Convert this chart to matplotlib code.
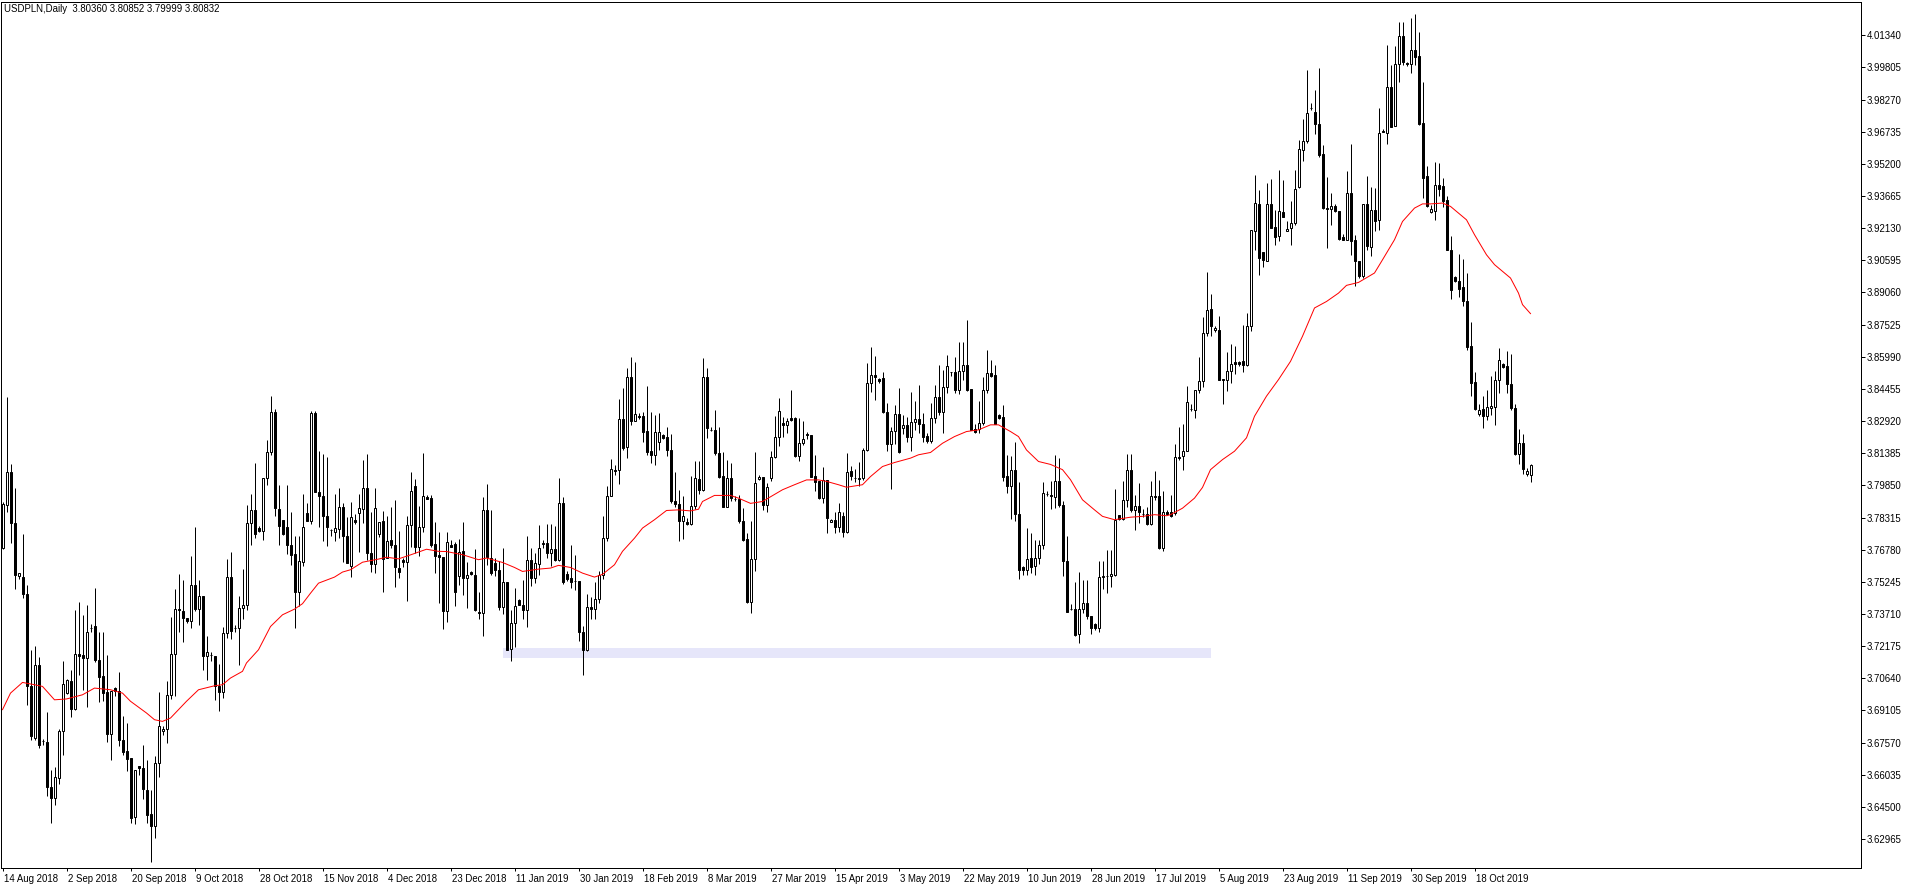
import matplotlib
matplotlib.use("Agg")
import matplotlib.pyplot as plt
import matplotlib.transforms as mtransforms
from matplotlib.patches import Rectangle

plt.rcParams['font.family'] = ['Liberation Sans', 'DejaVu Sans']

symbol = "USDPLN,Daily"

opens = [
 3.7688,3.7889,3.8048,3.7807,3.7550,3.7547,3.7466,3.7028,3.6780,3.7129,
 3.6766,3.6760,3.6545,3.6491,3.6588,3.6814,3.6993,3.7052,3.6917,3.7181,
 3.7176,3.7159,3.7304,3.7313,3.7152,3.7073,3.6997,3.6798,3.7017,3.7005,
 3.6771,3.6718,3.6681,3.6400,3.6646,3.6634,3.6531,3.6416,3.6360,3.6658,
 3.6811,3.6822,3.6985,3.7179,3.7393,3.7385,3.7350,3.7338,3.7510,3.7396,
 3.7458,3.7168,3.7177,3.7171,3.7028,3.6997,3.7280,3.7547,3.7304,3.7304,
 3.7399,3.7412,3.7804,3.7868,3.7780,3.7765,3.8019,3.8143,3.8334,3.7871,
 3.7820,3.7788,3.7701,3.7658,3.7478,3.7617,3.7852,3.7815,3.8329,3.7952,
 3.7935,3.7839,3.7773,3.7764,3.7775,3.7880,3.7743,3.7602,3.7820,3.7852,
 3.7871,3.7971,3.7660,3.7608,3.7751,3.7815,3.7637,3.7725,3.7701,3.7592,
 3.7629,3.7618,3.7796,3.7982,3.7692,3.7785,3.7931,3.7923,3.7703,3.7652,
 3.7642,3.7387,3.7700,3.7705,3.7554,3.7673,3.7542,3.7571,3.7558,3.7380,
 3.7375,3.7865,3.7638,3.7614,3.7582,3.7402,3.7523,3.7204,3.7328,3.7439,
 3.7415,3.7391,3.7630,3.7542,3.7611,3.7712,3.7709,3.7662,3.7681,3.7630,
 3.7900,3.7561,3.7542,3.7530,3.7530,3.7285,3.7197,3.7404,3.7396,3.7442,
 3.7555,3.7733,3.7935,3.8056,3.8056,3.8301,3.8167,3.8501,3.8290,3.8314,
 3.8317,3.8245,3.8151,3.8130,3.8194,3.8224,3.8218,3.8154,3.7911,3.7895,
 3.7813,3.7808,3.7800,3.7887,3.8014,3.7964,3.8504,3.8250,3.8250,3.8138,
 3.8030,3.7884,3.8022,3.7922,3.7919,3.7816,3.7730,3.7426,3.7633,3.8014,
 3.8024,3.7889,3.8019,3.8120,3.8218,3.8282,3.8271,3.8306,3.8306,3.8123,
 3.8186,3.8229,3.8226,3.8030,3.8004,3.7924,3.8011,3.7810,3.7821,3.7786,
 3.7837,3.7762,3.8054,3.8020,3.8014,3.8019,3.8155,3.8473,3.8512,3.8491,
 3.8496,3.8337,3.8182,3.8245,3.8325,3.8261,3.8274,3.8215,3.8286,3.8302,
 3.8277,3.8221,3.8199,3.8306,3.8406,3.8333,3.8457,3.8528,3.8528,3.8441,
 3.8533,3.8560,3.8444,3.8253,3.8253,3.8282,3.8441,3.8520,3.8512,3.8321,
 3.8310,3.8030,3.7980,3.8059,3.7850,3.7593,3.7579,3.7638,3.7601,3.7638,
 3.7698,3.7945,3.7940,3.7929,3.8007,3.7892,3.7625,3.7397,3.7396,3.7275,
 3.7395,3.7423,3.7363,3.7325,3.7304,3.7547,3.7554,3.7554,3.7558,3.7845,
 3.7824,3.7916,3.8059,3.7865,3.7888,3.7848,3.7848,3.7800,3.7932,3.7935,
 3.7686,3.7857,3.7856,3.7853,3.8120,3.8123,3.8151,3.8351,3.8345,3.8441,
 3.8484,3.8712,3.8829,3.8725,3.8728,3.8493,3.8487,3.8530,3.8573,3.8575,
 3.8578,3.8558,3.8747,3.9198,3.9329,3.9099,3.9054,3.9329,3.9218,3.9174,
 3.9290,3.9201,3.9213,3.9240,3.9409,3.9587,3.9627,3.9786,3.9768,3.9711,
 3.9568,3.9309,3.9306,3.9320,3.9293,3.9173,3.9158,3.9380,3.9158,3.9057,
 3.8983,3.9328,3.9123,3.9298,3.9250,3.9678,3.9667,3.9889,3.9703,3.9996,
 4.0131,4.0001,3.9999,4.0064,4.0035,3.9717,3.9460,3.9291,3.9293,3.9420,
 3.9415,3.9349,3.9110,3.8978,3.8962,3.8930,3.8864,3.8649,3.8477,3.8326,
 3.8350,3.8315,3.8356,3.8358,3.8490,3.8565,3.8554,3.8471,3.8355,3.8137,
 3.8188,3.8037,3.80360]

highs = [
 3.7905,3.8408,3.8087,3.7971,3.7568,3.7753,3.7510,3.7197,3.7216,3.7164,
 3.6776,3.6901,3.6625,3.6640,3.6822,3.7148,3.7062,3.7105,3.7391,3.7430,
 3.7367,3.7414,3.7323,3.7494,3.7284,3.7284,3.7176,3.7005,3.7020,3.7094,
 3.6882,3.6849,3.6681,3.6628,3.6646,3.6745,3.6675,3.6531,3.6693,3.6996,
 3.6834,3.7049,3.7356,3.7489,3.7562,3.7534,3.7354,3.7648,3.7784,3.7534,
 3.7458,3.7267,3.7189,3.7171,3.7133,3.7311,3.7632,3.7665,3.7316,3.7458,
 3.7585,3.7891,3.7942,3.8090,3.7791,3.8019,3.8202,3.8412,3.8348,3.7987,
 3.7820,3.7987,3.7857,3.7741,3.7741,3.7942,3.7900,3.8340,3.8340,3.8149,
 3.8135,3.8122,3.7777,3.7944,3.7971,3.7899,3.7836,3.7904,3.7848,3.7944,
 3.8106,3.8135,3.7856,3.7971,3.7809,3.7864,3.7840,3.7883,3.7915,3.7767,
 3.7637,3.7839,3.8049,3.8016,3.7887,3.8141,3.7939,3.7939,3.7812,3.7764,
 3.7645,3.7761,3.7724,3.7713,3.7729,3.7808,3.7617,3.7577,3.7682,3.7475,
 3.7929,3.7991,3.7865,3.7638,3.7622,3.7685,3.7523,3.7391,3.7495,3.7444,
 3.7534,3.7744,3.7685,3.7662,3.7797,3.7722,3.7802,3.7802,3.7792,3.8022,
 3.7929,3.7577,3.7701,3.7654,3.7530,3.7312,3.7467,3.7452,3.7523,3.7574,
 3.7840,3.7980,3.8111,3.8083,3.8396,3.8449,3.8544,3.8596,3.8573,3.8329,
 3.8337,3.8460,3.8337,3.8321,3.8329,3.8231,3.8263,3.8231,3.8048,3.7964,
 3.7932,3.7829,3.8030,3.8099,3.8099,3.8592,3.8544,3.8263,3.8345,3.8263,
 3.8146,3.8104,3.8091,3.7932,3.7940,3.7876,3.7757,3.7813,3.8143,3.8035,
 3.8024,3.7996,3.8147,3.8317,3.8401,3.8310,3.8306,3.8441,3.8310,3.8306,
 3.8290,3.8239,3.8226,3.8131,3.8004,3.8075,3.8011,3.7822,3.7860,3.7900,
 3.7860,3.8139,3.8078,3.8062,3.8096,3.8163,3.8568,3.8647,3.8603,3.8499,
 3.8525,3.8377,3.8266,3.8369,3.8449,3.8321,3.8310,3.8430,3.8388,3.8465,
 3.8329,3.8234,3.8377,3.8465,3.8560,3.8536,3.8608,3.8528,3.8600,3.8668,
 3.8668,3.8775,3.8444,3.8279,3.8390,3.8504,3.8632,3.8584,3.8560,3.8326,
 3.8369,3.8131,3.8127,3.8190,3.8003,3.7601,3.7781,3.7757,3.7725,3.7725,
 3.8003,3.7959,3.8008,3.8131,3.8115,3.7908,3.7744,3.7420,3.7524,3.7571,
 3.7535,3.7535,3.7363,3.7328,3.7625,3.7622,3.7674,3.7674,3.7967,3.7845,
 3.8004,3.8136,3.8136,3.7940,3.7996,3.7872,3.7881,3.8004,3.8055,3.8012,
 3.7956,3.7865,3.7937,3.8182,3.8266,3.8279,3.8460,3.8374,3.8441,3.8597,
 3.8787,3.9002,3.8900,3.8747,3.8792,3.8493,3.8620,3.8662,3.8649,3.8578,
 3.8752,3.8808,3.9205,3.9468,3.9396,3.9099,3.9428,3.9447,3.9301,3.9492,
 3.9444,3.9245,3.9344,3.9492,3.9635,3.9733,3.9968,3.9810,3.9873,3.9976,
 3.9611,3.9457,3.9383,3.9328,3.9293,3.9185,3.9487,3.9616,3.9181,3.9057,
 3.9328,3.9463,3.9409,3.9404,3.9786,3.9686,4.0088,3.9993,4.0083,4.0196,
 4.0199,4.0008,4.0215,4.0236,4.0152,3.9913,3.9508,3.9325,3.9528,3.9524,
 3.9452,3.9365,3.9177,3.8983,3.9091,3.9066,3.9000,3.8763,3.8525,3.8375,
 3.8414,3.8442,3.8506,3.8530,3.8641,3.8570,3.8625,3.8614,3.8375,3.8255,
 3.8228,3.8069,3.80852]

lows = [
 3.7680,3.7860,3.7709,3.7489,3.7537,3.7445,3.6935,3.6768,3.6771,3.6731,
 3.6747,3.6500,3.6374,3.6461,3.6561,3.6696,3.6988,3.6877,3.6914,3.7078,
 3.7009,3.6929,3.7286,3.7143,3.6949,3.6954,3.6760,3.6675,3.6981,3.6739,
 3.6697,3.6623,3.6371,3.6366,3.6602,3.6486,3.6371,3.6188,3.6299,3.6591,
 3.6795,3.6755,3.6966,3.6978,3.7284,3.7235,3.7327,3.7303,3.7383,3.7319,
 3.7101,3.7057,3.7148,3.6958,3.6906,3.6970,3.7256,3.7251,3.7284,3.7129,
 3.7348,3.7391,3.7698,3.7736,3.7763,3.7725,3.7987,3.8130,3.7839,3.7701,
 3.7749,3.7656,3.7605,3.7303,3.7410,3.7598,3.7817,3.7799,3.7955,3.7788,
 3.7717,3.7697,3.7745,3.7717,3.7733,3.7621,3.7613,3.7549,3.7801,3.7665,
 3.7804,3.7629,3.7573,3.7568,3.7740,3.7478,3.7637,3.7688,3.7501,3.7541,
 3.7597,3.7434,3.7692,3.7660,3.7649,3.7764,3.7918,3.7692,3.7568,3.7425,
 3.7298,3.7331,3.7692,3.7411,3.7509,3.7463,3.7399,3.7558,3.7383,3.7347,
 3.7264,3.7603,3.7558,3.7550,3.7391,3.7370,3.7201,3.7145,3.7212,3.7412,
 3.7347,3.7308,3.7503,3.7518,3.7558,3.7685,3.7638,3.7601,3.7622,3.7622,
 3.7515,3.7526,3.7495,3.7487,3.7240,3.7081,3.7192,3.7347,3.7347,3.7423,
 3.7537,3.7717,3.7932,3.8035,3.7992,3.8154,3.8115,3.8274,3.8290,3.8301,
 3.8194,3.8130,3.8091,3.8083,3.8154,3.8208,3.8127,3.7900,3.7884,3.7717,
 3.7728,3.7797,3.7797,3.7871,3.7945,3.7956,3.8213,3.8246,3.8130,3.8022,
 3.7884,3.7884,3.7908,3.7911,3.7805,3.7720,3.7423,3.7375,3.7577,3.8011,
 3.7868,3.7860,3.8008,3.8115,3.8171,3.8218,3.8234,3.8290,3.8120,3.8099,
 3.8178,3.8207,3.8027,3.7956,3.7919,3.7900,3.7757,3.7810,3.7757,3.7762,
 3.7738,3.7757,3.8011,3.8003,3.7980,3.8011,3.8151,3.8433,3.8393,3.8475,
 3.8329,3.8147,3.7967,3.8182,3.8139,3.8231,3.8194,3.8151,3.8247,3.8234,
 3.8190,3.8186,3.8186,3.8282,3.8321,3.8237,3.8428,3.8509,3.8428,3.8422,
 3.8488,3.8436,3.8247,3.8234,3.8234,3.8274,3.8428,3.8504,3.8279,3.8302,
 3.8008,3.7948,3.7825,3.7813,3.7538,3.7558,3.7558,3.7566,3.7558,3.7611,
 3.7681,3.7932,3.7873,3.7876,3.7884,3.7550,3.7379,3.7388,3.7267,3.7233,
 3.7376,3.7347,3.7275,3.7296,3.7283,3.7490,3.7471,3.7500,3.7550,3.7821,
 3.7821,3.7884,3.7857,3.7773,3.7805,3.7834,3.7797,3.7797,3.7916,3.7681,
 3.7670,3.7845,3.7833,3.7845,3.8107,3.8056,3.8147,3.8341,3.8306,3.8428,
 3.8457,3.8697,3.8697,3.8716,3.8487,3.8374,3.8434,3.8474,3.8517,3.8553,
 3.8526,3.8553,3.8720,3.9110,3.8991,3.9030,3.9054,3.9213,3.9134,3.9150,
 3.9266,3.9199,3.9134,3.9229,3.9404,3.9536,3.9619,3.9775,3.9663,3.9552,
 3.9304,3.9118,3.9229,3.9290,3.9158,3.9155,3.9155,3.9086,3.8938,3.8975,
 3.8975,3.9110,3.9078,3.9201,3.9202,3.9670,3.9614,3.9694,3.9702,3.9913,
 3.9993,3.9988,3.9956,3.9993,3.9706,3.9357,3.9314,3.9285,3.9253,3.9365,
 3.9312,3.9107,3.8876,3.8954,3.8883,3.8843,3.8633,3.8410,3.8347,3.8318,
 3.8260,3.8296,3.8323,3.8275,3.8426,3.8545,3.8426,3.8347,3.8132,3.8088,
 3.8037,3.8032,3.79999]

closes = [
 3.7897,3.8048,3.7807,3.7555,3.7566,3.7466,3.7025,3.6787,3.7129,3.6744,
 3.6764,3.6545,3.6491,3.6593,3.6814,3.7036,3.7057,3.6917,3.7179,3.7172,
 3.7159,3.7284,3.7302,3.7152,3.7068,3.6993,3.6798,3.7005,3.7001,3.6768,
 3.6713,3.6678,3.6395,3.6628,3.6634,3.6535,3.6411,3.6360,3.6658,3.6838,
 3.6823,3.6985,3.7179,3.7393,3.7390,3.7353,3.7338,3.7510,3.7396,3.7458,
 3.7168,3.7189,3.7174,3.7025,3.6997,3.7280,3.7547,3.7288,3.7302,3.7399,
 3.7412,3.7804,3.7868,3.7752,3.7769,3.8019,3.8143,3.8334,3.7876,3.7793,
 3.7753,3.7701,3.7653,3.7474,3.7625,3.7785,3.7817,3.8329,3.7955,3.7932,
 3.7841,3.7785,3.7771,3.7780,3.7880,3.7745,3.7613,3.7833,3.7812,3.7876,
 3.7971,3.7660,3.7608,3.7876,3.7809,3.7634,3.7719,3.7698,3.7597,3.7573,
 3.7618,3.7796,3.7958,3.7692,3.7785,3.7936,3.7919,3.7700,3.7649,3.7642,
 3.7387,3.7713,3.7692,3.7474,3.7668,3.7542,3.7558,3.7561,3.7388,3.7375,
 3.7865,3.7642,3.7566,3.7582,3.7402,3.7523,3.7201,3.7328,3.7407,3.7412,
 3.7388,3.7630,3.7542,3.7614,3.7685,3.7706,3.7662,3.7681,3.7630,3.7900,
 3.7522,3.7537,3.7523,3.7528,3.7283,3.7197,3.7404,3.7396,3.7442,3.7555,
 3.7733,3.7932,3.8062,3.8054,3.8301,3.8162,3.8501,3.8290,3.8325,3.8312,
 3.8242,3.8146,3.8130,3.8242,3.8242,3.8213,3.8154,3.7911,3.7895,3.7813,
 3.7840,3.7800,3.7887,3.8019,3.7964,3.8504,3.8261,3.8248,3.8138,3.8027,
 3.7884,3.8022,3.7924,3.7920,3.7816,3.7725,3.7426,3.7633,3.7996,3.8027,
 3.7889,3.7975,3.8120,3.8218,3.8341,3.8271,3.8290,3.8298,3.8123,3.8186,
 3.8207,3.8227,3.8027,3.7999,3.7924,3.8011,3.7829,3.7821,3.7786,3.7860,
 3.7762,3.8051,3.8032,3.8018,3.8019,3.8155,3.8473,3.8512,3.8501,3.8485,
 3.8337,3.8182,3.8245,3.8325,3.8142,3.8274,3.8218,3.8286,3.8302,3.8277,
 3.8218,3.8199,3.8306,3.8406,3.8333,3.8457,3.8557,3.8527,3.8441,3.8533,
 3.8560,3.8441,3.8250,3.8242,3.8282,3.8441,3.8520,3.8509,3.8279,3.8306,
 3.8027,3.7980,3.8059,3.7848,3.7579,3.7579,3.7633,3.7595,3.7638,3.7698,
 3.7948,3.7943,3.7932,3.8007,3.7889,3.7622,3.7379,3.7395,3.7272,3.7396,
 3.7423,3.7360,3.7304,3.7304,3.7547,3.7553,3.7552,3.7562,3.7821,3.7824,
 3.7916,3.8059,3.7865,3.7888,3.7856,3.7846,3.7800,3.7935,3.7930,3.7686,
 3.7857,3.7850,3.7841,3.8120,3.8118,3.8151,3.8382,3.8349,3.8441,3.8484,
 3.8711,3.8824,3.8744,3.8737,3.8490,3.8487,3.8533,3.8566,3.8566,3.8566,
 3.8558,3.8747,3.9205,3.9332,3.9073,3.9062,3.9329,3.9213,3.9170,3.9296,
 3.9266,3.9210,3.9240,3.9401,3.9592,3.9630,3.9762,3.9786,3.9711,3.9563,
 3.9309,3.9304,3.9320,3.9293,3.9162,3.9158,3.9380,3.9154,3.9054,3.8983,
 3.9328,3.9126,3.9298,3.9245,3.9667,3.9672,3.9889,3.9698,3.9996,4.0131,
 4.0008,3.9999,4.0064,4.0029,3.9711,3.9455,3.9317,3.9306,3.9420,3.9401,
 3.9344,3.9107,3.8919,3.8959,3.8924,3.8864,3.8644,3.8474,3.8350,3.8347,
 3.8315,3.8358,3.8363,3.8490,3.8585,3.8549,3.8469,3.8355,3.8137,3.8188,
 3.8061,3.8053,3.80832]

# moving average (red line): bar index -> value
ma_bar = [0,2,5,8,10,13,16,20,23,27,30,32,36,38,40,42,46,49,53,55,57,60,61,64,67,
          70,73,75,77,79,83,85,87,90,94,96,99,102,106,109,111,115,119,121,125,128,
          130,134,137,139,142,145,148,150,153,155,158,160,163,166,169,172,174,175,
          178,182,184,187,190,195,198,201,204,206,209,211,215,217,220,223,227,229,
          232,235,238,241,244,247,249,252,254,256,259,262,265,267,270,273,275,278,
          282,285,288,291,292,295,298,300,302,305,308,311,313,316,319,322,325,328,
          331,334,336,339,343,345,348,350,353,355,357,360,362,366,368,371,373,377,
          379,380,382]
ma_val = [3.6914,3.6993,3.7044,3.7033,3.7025,3.6961,3.6965,3.6985,3.7017,3.7009,
          3.6993,3.6954,3.6898,3.6866,3.6858,3.6874,3.6954,3.7009,3.7028,3.7033,
          3.7065,3.7097,3.7137,3.7200,3.7311,3.7367,3.7394,3.7420,3.7470,3.7518,
          3.7547,3.7571,3.7582,3.7618,3.7633,3.7642,3.7634,3.7653,3.7680,3.7670,
          3.7669,3.7654,3.7630,3.7638,3.7617,3.7593,3.7574,3.7585,3.7590,3.7603,
          3.7593,3.7566,3.7547,3.7560,3.7606,3.7670,3.7733,3.7781,3.7821,3.7865,
          3.7868,3.7863,3.7871,3.7908,3.7937,3.7937,3.7924,3.7899,3.7908,3.7964,
          3.7988,3.8011,3.8011,3.8004,3.7988,3.7976,3.7988,3.8027,3.8075,3.8094,
          3.8115,3.8131,3.8142,3.8186,3.8218,3.8242,3.8250,3.8274,3.8274,3.8242,
          3.8218,3.8154,3.8099,3.8085,3.8060,3.8012,3.7916,3.7868,3.7837,3.7821,
          3.7833,3.7837,3.7845,3.7840,3.7845,3.7876,3.7924,3.7975,3.8060,3.8108,
          3.8148,3.8212,3.8315,3.8411,3.8490,3.8577,3.8697,3.8832,3.8863,3.8903,
          3.8940,3.8954,3.8999,3.9062,3.9158,3.9245,3.9309,3.9329,3.9329,3.9333,
          3.9317,3.9253,3.9182,3.9086,3.9039,3.8975,3.8903,3.8848,3.8805]

# highlighted zone (lavender rectangle)
zone_start, zone_end = 125, 302
zone_low, zone_high = 3.7159, 3.7207

date_bars = [0,16,32,48,64,80,96,112,128,144,160,176,192,208,224,240,256,272,288,304,320,336,352,368]
date_labels = ['14 Aug 2018','2 Sep 2018','20 Sep 2018','9 Oct 2018','28 Oct 2018','15 Nov 2018',
               '4 Dec 2018','23 Dec 2018','11 Jan 2019','30 Jan 2019','18 Feb 2019','8 Mar 2019',
               '27 Mar 2019','15 Apr 2019','3 May 2019','22 May 2019','10 Jun 2019','28 Jun 2019',
               '17 Jul 2019','5 Aug 2019','23 Aug 2019','11 Sep 2019','30 Sep 2019','18 Oct 2019']

price_ticks = [4.01340,3.99805,3.98270,3.96735,3.95200,3.93665,3.92130,3.90595,3.89060,
               3.87525,3.85990,3.84455,3.82920,3.81385,3.79850,3.78315,3.76780,3.75245,
               3.73710,3.72175,3.70640,3.69105,3.67570,3.66035,3.64500,3.62965]

W, H = 1916, 888
fig = plt.figure(figsize=(W / 100, H / 100), dpi=100)
fig.patch.set_facecolor('white')
ax_l, ax_r, ax_t, ax_b = 1, 1861, 2, 868
ax = fig.add_axes([ax_l / W, (H - ax_b) / H, (ax_r - ax_l) / W, (ax_b - ax_t) / H])
ax.set_facecolor('white')

px = 0.72  # one pixel in points

n = len(closes)
xs = list(range(n))

# zone
ax.add_patch(Rectangle((zone_start, zone_low), zone_end - zone_start, zone_high - zone_low,
                       facecolor='#E6E6FA', edgecolor='none', zorder=0))

# wicks
ax.vlines(xs, lows, highs, colors='black', linewidth=px, zorder=2)

# bodies
bottoms = [min(o, c) for o, c in zip(opens, closes)]
heights = [abs(c - o) for o, c in zip(opens, closes)]
faces = ['white' if c >= o else 'black' for o, c in zip(opens, closes)]
ax.bar(xs, heights, bottom=bottoms, width=0.5, color=faces, edgecolor='black',
       linewidth=px, zorder=3)

# moving average
ax.plot(ma_bar, ma_val, color='#FF0000', linewidth=px, zorder=4)

# limits in data units matching pixel layout: 4 px per bar, first bar at x=2.5 px
ax.set_xlim((ax_l - 2.5) / 4, (ax_r - 2.5) / 4)
ax.set_ylim(4.03026 - 0.0004775 * ax_b, 4.03026 - 0.0004775 * ax_t)

for s in ax.spines.values():
    s.set_color('black')
    s.set_linewidth(px)

ax.yaxis.tick_right()
ax.set_yticks(price_ticks)
ax.set_yticklabels([f"{v:.5f}" for v in price_ticks])
ax.tick_params(axis='y', direction='out', length=3.0, width=px, pad=1.2,
               labelsize=6.9, colors='black')

ax.set_xticks(date_bars)
ax.set_xticklabels(date_labels)
ax.tick_params(axis='x', direction='out', length=2.2, width=px, pad=1.8,
               labelsize=6.9, colors='black')
offset = mtransforms.ScaledTranslation(1.5 / 100, 0, fig.dpi_scale_trans)
for lab in ax.get_xticklabels():
    lab.set_horizontalalignment('left')
    lab.set_transform(lab.get_transform() + offset)

title = f"{symbol}  {opens[-1]:.5f} {highs[-1]:.5f} {lows[-1]:.5f} {closes[-1]:.5f}"
ax.text(3 / (ax_r - ax_l), 1 - 1.5 / (ax_b - ax_t), title, transform=ax.transAxes,
        ha='left', va='top', fontsize=6.9, color='black', zorder=5)

fig.savefig('out.png', dpi=100, facecolor='white')
